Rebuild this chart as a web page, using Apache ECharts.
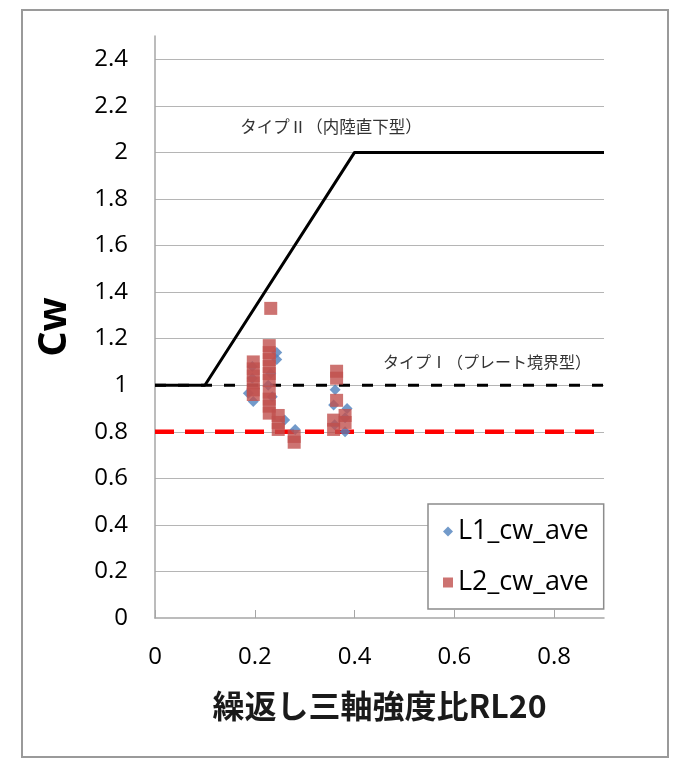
<!DOCTYPE html>
<html>
<head>
<meta charset="utf-8">
<script src="https://cdn.jsdelivr.net/npm/echarts@6/dist/echarts.min.js"></script>
<style>
  html, body { margin: 0; padding: 0; background: #ffffff; }
  #chart { width: 686px; height: 763px; }
</style>
</head>
<body>
<div id="chart"></div>
<script>
// Axis ticks
const xTickValues = [0, 0.2, 0.4, 0.6, 0.8];
const yTickValues = [0, 0.2, 0.4, 0.6, 0.8, 1, 1.2, 1.4, 1.6, 1.8, 2, 2.2, 2.4];

// Design lines
const typeIIX = [0, 0.1, 0.4, 0.9];   // タイプⅡ（内陸直下型）
const typeIIY = [1, 1, 2, 2];
const typeIX = [0, 0.9];              // タイプⅠ（プレート境界型）
const typeIY = [1, 1];
const limitX = [0, 0.9];              // lower limit 0.8
const limitY = [0.8, 0.8];

// L1_cw_ave
const l1X = [0.195, 0.195, 0.187, 0.197, 0.227, 0.232, 0.244, 0.244, 0.235, 0.260, 0.281,
             0.361, 0.358, 0.385, 0.381, 0.381, 0.360];
const l1Y = [1.08, 1.03, 0.965, 0.93, 1.00, 1.05, 1.14, 1.11, 0.95, 0.85, 0.81,
             0.98, 0.915, 0.90, 0.86, 0.80, 0.83];

// L2_cw_ave
const l2X = [0.232,
             0.197, 0.197, 0.197, 0.197, 0.197, 0.197,
             0.229, 0.229, 0.229, 0.229, 0.229, 0.229, 0.229, 0.229, 0.229, 0.229,
             0.247, 0.247, 0.247,
             0.279, 0.279,
             0.364, 0.364, 0.364,
             0.358, 0.358,
             0.381, 0.381];
const l2Y = [1.33,
             1.10, 1.07, 1.04, 1.01, 0.98, 0.96,
             1.17, 1.14, 1.11, 1.08, 1.05, 1.02, 0.97, 0.94, 0.91, 0.88,
             0.87, 0.84, 0.81,
             0.78, 0.755,
             1.06, 1.03, 0.935,
             0.85, 0.81,
             0.87, 0.84];

const zip = (xs, ys) => xs.map((x, i) => [x, ys[i]]);

const latin = '"Open Sans", "Noto Sans CJK JP", sans-serif';
const cjk = '"Noto Sans CJK JP", "Noto Sans", sans-serif';

const chart = echarts.init(document.getElementById('chart'), null, { renderer: 'canvas' });

chart.setOption({
  animation: false,
  backgroundColor: '#ffffff',
  grid: { left: 155, right: 82, top: 36, bottom: 145, containLabel: false },
  xAxis: {
    type: 'value',
    min: 0, max: 0.9, interval: 0.2,
    name: '繰返し三軸強度比RL20',
    nameLocation: 'middle',
    nameGap: 72,
    nameTextStyle: { fontFamily: cjk, fontWeight: 'bold', fontSize: 32, color: '#1a1a1a' },
    axisLine: { show: true, onZero: false, lineStyle: { color: '#a6a6a6', width: 1.5 } },
    axisTick: { show: true, inside: true, length: 8, customValues: xTickValues,
                lineStyle: { color: '#a6a6a6', width: 1 } },
    axisLabel: { customValues: xTickValues, margin: 27, fontFamily: latin, fontSize: 24, color: '#000000' },
    splitLine: { show: false }
  },
  yAxis: {
    type: 'value',
    min: 0, max: 2.5, interval: 0.2,
    name: 'Cw',
    nameLocation: 'middle',
    nameGap: 80,
    nameRotate: 90,
    nameTextStyle: { fontFamily: latin, fontWeight: 'bold', fontSize: 40, color: '#000000' },
    axisLine: { show: true, lineStyle: { color: '#a6a6a6', width: 1.5 } },
    axisTick: { show: false },
    axisLabel: { customValues: yTickValues, margin: 27, fontFamily: latin, fontSize: 24, color: '#000000' },
    splitLine: { show: true, showMinLine: false, showMaxLine: false,
                 lineStyle: { color: '#b5b5b5', width: 1 } }
  },
  legend: {
    orient: 'vertical',
    left: 428, top: 504,
    backgroundColor: '#ffffff',
    borderColor: '#8c8c8c', borderWidth: 1.5, borderRadius: 0,
    padding: [14, 15, 13, 15],
    itemGap: 24,
    itemWidth: 10, itemHeight: 10,
    textStyle: { fontFamily: latin, fontSize: 27, color: '#000000' },
    data: [
      { name: 'L1_cw_ave', icon: 'diamond' },
      { name: 'L2_cw_ave', icon: 'rect' }
    ]
  },
  graphic: [
    { type: 'rect', shape: { x: 22, y: 10, width: 646, height: 747 },
      style: { fill: 'none', stroke: '#9a9a9a', lineWidth: 2 }, silent: true, z: -10 },
    { type: 'text', x: 331, y: 127,
      style: { text: 'タイプⅡ（内陸直下型）', fill: '#333333', font: '16.5px ' + cjk,
               textAlign: 'center', textVerticalAlign: 'middle' } },
    { type: 'text', x: 487, y: 362,
      style: { text: 'タイプⅠ（プレート境界型）', fill: '#333333', font: '16px ' + cjk,
               textAlign: 'center', textVerticalAlign: 'middle' } }
  ],
  series: [
    {
      name: 'limit',
      type: 'line',
      data: zip(limitX, limitY),
      symbol: 'none',
      silent: true,
      lineStyle: { color: '#ff0000', width: 4.5, type: [19, 11] },
      z: 2
    },
    {
      name: 'typeI',
      type: 'line',
      data: zip(typeIX, typeIY),
      symbol: 'none',
      silent: true,
      lineStyle: { color: '#000000', width: 3, type: [11, 12] },
      z: 2
    },
    {
      name: 'typeII',
      type: 'line',
      data: zip(typeIIX, typeIIY),
      symbol: 'none',
      silent: true,
      lineStyle: { color: '#000000', width: 3, type: 'solid' },
      z: 2
    },
    {
      name: 'L1_cw_ave',
      type: 'scatter',
      data: zip(l1X, l1Y),
      symbol: 'diamond',
      symbolSize: 11,
      itemStyle: { color: '#4f81bd' },
      z: 3
    },
    {
      name: 'L2_cw_ave',
      type: 'scatter',
      data: zip(l2X, l2Y),
      symbol: 'rect',
      symbolSize: 13,
      itemStyle: { color: '#c0504d' },
      z: 4
    }
  ]
});
</script>
</body>
</html>
